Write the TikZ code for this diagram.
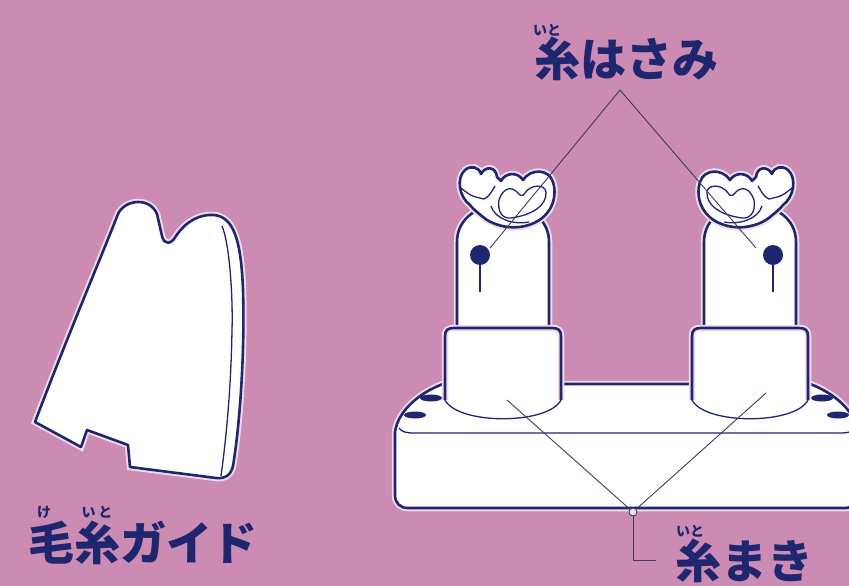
\documentclass[tikz,border=0pt]{standalone}
\usepackage{fontspec}
\newfontfamily\jpfont{Noto Sans CJK JP}
\definecolor{mauve}{RGB}{203,139,178}
\definecolor{ink}{RGB}{30,38,112}
\definecolor{leadcol}{RGB}{62,58,104}
\tikzset{
  part/.style={draw=ink, fill=white, line width=2.6pt, line join=round,
    preaction={draw=mauve!30!white, line width=6.5pt}},
  rim/.style={draw=ink, line width=2.6pt, line join=round,
    preaction={draw=mauve!30!white, line width=6.5pt}},
  edge/.style={draw=ink, line width=1.3pt},
  leader/.style={draw=leadcol, line width=0.9pt},
  tag/.style={text=ink, inner sep=0pt, font=\jpfont\bfseries\fontsize{46}{46}\selectfont},
  ruby/.style={text=ink, inner sep=0pt, font=\jpfont\bfseries\fontsize{14}{14}\selectfont},
}
\begin{document}
\begin{tikzpicture}[x=1pt,y=-1pt]
  \fill[mauve] (0,0) rectangle (849,586);
  \useasboundingbox (0,0) rectangle (849,586);
  \clip (0,0) rectangle (849,586);

  % yarn guide
  \draw[part] (35,422) .. controls (70,330) and (100,260) .. (118,214)
     .. controls (125,199) and (150,197) .. (157,214)
     -- (162,236) .. controls (164,245) and (171,245) .. (176,236)
     .. controls (186,221) and (200,214) .. (214,215)
     .. controls (233,217) and (241,238) .. (243,290)
     .. controls (245,360) and (239,430) .. (233,466)
     .. controls (231,475) and (225,479) .. (216,478)
     -- (130,467) -- (128,445) -- (87,430) -- (81,447) -- cycle;
  \draw[edge] (222,226) .. controls (230,245) and (233,300) .. (232,330)
     .. controls (231,390) and (226,440) .. (221,476);

  % base block
  \draw[part] (443,384) -- (810,384) .. controls (832,392) and (855,410) .. (858,432)
     -- (858,495) .. controls (858,503) and (853,508) .. (846,508) -- (408,508)
     .. controls (400,508) and (395,503) .. (395,495) -- (395,432)
     .. controls (398,410) and (421,392) .. (443,384) -- cycle;
  \draw[edge] (399,428) .. controls (402,432) and (406,433) .. (414,433) -- (840,433)
     .. controls (848,433) and (852,432) .. (855,428);
  \foreach \hx/\hy in {431/398, 415/415, 822/398, 838/415}
    \fill[ink] (\hx,\hy) ellipse (11pt and 3.5pt);

  % spools with thread cutters
  \foreach \cx/\s in {503/1, 750/-1}{
    \begin{scope}[shift={(\cx,0)}, xscale=\s]
      \draw[part] (-46,330) -- (-46,242) .. controls (-46,192) and (46,192) .. (46,242) -- (46,330);
      \fill[white] (-58,400) -- (-58,336) .. controls (-58,330) and (-55,328) .. (-49,328)
         -- (49,328) .. controls (55,328) and (58,330) .. (58,336) -- (58,400)
         .. controls (45,425) and (-45,425) .. cycle;
      \draw[rim] (-58,400) -- (-58,336) .. controls (-58,330) and (-55,328) .. (-49,328)
         -- (49,328) .. controls (55,328) and (58,330) .. (58,336) -- (58,400);
      \draw[edge] (-58,400) .. controls (-45,425) and (45,425) .. (58,400);
      \fill[ink] (-23,255) circle (10pt);
      \draw[ink, line width=2.8pt] (-23,260) -- (-23,292);
      % cutter cap
      \draw[part] (-33,205) .. controls (-44,197) and (-47,178) .. (-38,170)
         .. controls (-32,165) and (-24,167) .. (-22,174)
         .. controls (-18,166) and (-7,166) .. (-6,177) -- (-2,181)
         .. controls (2,173) and (14,171) .. (20,180)
         .. controls (28,168) and (46,169) .. (50,182)
         .. controls (55,198) and (48,220) .. (22,226)
         .. controls (5,230) and (-12,224) .. (-20,217)
         .. controls (-26,212) and (-30,209) .. cycle;
      \draw[edge] (-42,188) .. controls (-32,196) .. (-19,199) .. controls (-14,196) .. (-8,186);
      \draw[edge] (-4,200) .. controls (0,188) and (8,186) .. (14,192)
         .. controls (17,196) and (20,197) .. (22,193)
         .. controls (28,184) and (42,184) .. (43,192)
         .. controls (44,205) and (30,215) .. (8,218)
         .. controls (0,219) and (-6,212) .. cycle;
      \draw[edge] (-12,206) .. controls (-8,219) and (10,225) .. (26,222);
    \end{scope}}

  % labels
  \node[tag] (guide) at (143,543) {毛糸ガイド};
  \node[ruby] at (44,512) {け};
  \node[ruby] at (97,512) {い\hspace{3pt}と};
  \node[tag] (cutter) at (626,59) {糸はさみ};
  \node[ruby] at (547,30) {いと};
  \node[tag] (winder) at (744,561) {糸まき};
  \node[ruby] at (690,531) {いと};

  % leader lines
  \coordinate (apex) at (620,90);
  \coordinate (cutA) at (490,248);
  \coordinate (cutB) at (756,248);
  \coordinate (windA) at (507,400);
  \coordinate (windB) at (766,393);
  \coordinate (hook) at (656,560);
  \draw[leader] (cutA) -- (apex) -- (cutB);
  \node[circle, draw=leadcol, fill=mauve!25!white, line width=0.9pt, inner sep=0pt,
    minimum size=8pt] (hub) at (633,512) {};
  \draw[leader] (windA) -- (hub);
  \draw[leader] (windB) -- (hub);
  \draw[leader] (hub) |- (hook);
\end{tikzpicture}
\end{document}
